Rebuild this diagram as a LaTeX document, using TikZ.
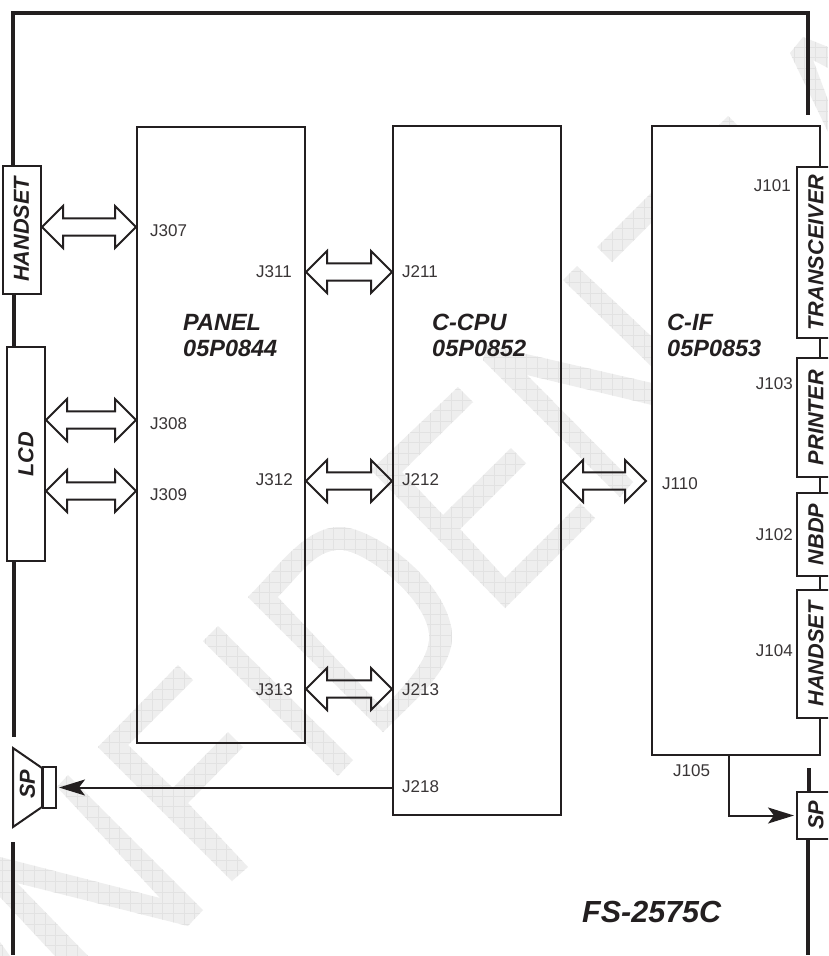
\documentclass[tikz,border=0pt]{standalone}
\usepackage{fontspec}
\setmainfont{Liberation Sans}
\usetikzlibrary{calc,arrows.meta}
\definecolor{ink}{HTML}{231F20}
\definecolor{wm}{HTML}{EEEEEE}
\definecolor{wmg}{HTML}{E2E2E2}
\tikzset{
  board/.style={draw=ink,line width=2pt,inner sep=0pt},
  tab/.style={draw=ink,line width=2pt,fill=white,inner sep=0pt,rotate=90,minimum height=38pt,text=ink,font=\fontsize{21.7}{22}\selectfont\bfseries\itshape},
  jlabel/.style={inner sep=0pt,text=ink!90,font=\fontsize{17}{17}\selectfont},
  title/.style={inner sep=0pt,align=left,anchor=base west,text=ink,font=\fontsize{23.5}{26}\selectfont\bfseries\itshape},
  frameline/.style={draw=ink,line width=3.8pt},
  fat/.style={draw=ink,line width=2pt,line join=miter,to path={
    let \p1=(\tikztostart),\p2=(\tikztotarget) in
    (\x1,\y1) -- (\x1+21pt,\y1+21pt) -- (\x1+21pt,\y1+8.7pt) -- (\x2-21pt,\y1+8.7pt) -- (\x2-21pt,\y1+21pt) -- (\x2,\y1)
    -- (\x2-21pt,\y1-21pt) -- (\x2-21pt,\y1-8.7pt) -- (\x1+21pt,\y1-8.7pt) -- (\x1+21pt,\y1-21pt) -- cycle}},
  feed/.style={draw=ink,line width=2pt,-{Stealth[length=26pt,width=16pt,inset=6pt]},shorten >=2pt}
}
\begin{document}
\begin{tikzpicture}[x=1pt,y=-1pt]
\clip (0,0) rectangle (828,956);
\fill[white] (0,0) rectangle (828,956);
% watermark
\begin{scope}
\clip
 (68,775)--(203,910)--(188,926)--(17,883)--(88,956)--(55,956)--(0,897)--(0,857)--(160,898)--(57,787)--cycle
 (0,942)--(10,956)--(0,956)--cycle
 (98,747)--(178,665)--(193,680)--(128,745)--(173,788)--(228,732)--(243,747)--(188,803)--(248,867)--(232,881)--cycle
 (218,626)--(203,641)--(338,776)--(353,760)--cycle
 (248,597) .. controls (280,565) and (305,527) .. (340,527) .. controls (375,527) and (452,585) .. (452,637) .. controls (452,670) and (415,700) .. (383,732) --cycle
 (371,470)--(458,387)--(473,402)--(402,472)--(443,515)--(511,448)--(526,463)--(460,529)--(505,578)--(580,503)--(595,518)--(505,608)--cycle
 (487,345)--(652,383)--(652,405)--(527,375)--(633,482)--(620,497)--(483,360)--cycle
 (577,266)--(652,337)--(652,367)--(563,280)--cycle
 (597,247)--(728,116)--(743,131)--(612,262)--cycle
 (790,53)--(803,37)--(828,47)--(828,68)--(813,60)--(828,100)--(828,132)--cycle;
\fill[wm] (0,0) rectangle (828,956);
\foreach \k in {0,...,78} {\draw[wmg,line width=0.6pt] (\k*10.7+2,0) -- (\k*10.7+2,956);}
\foreach \k in {0,...,90} {\draw[wmg,line width=0.6pt] (0,\k*10.7+4) -- (828,\k*10.7+4);}
\end{scope}
% D counter is white
\fill[white]
 (278,597) .. controls (300,575) and (315,550) .. (340,550) .. controls (365,550) and (429,600) .. (429,637) .. controls (429,660) and (405,685) .. (383,708) --cycle;
% frame
\draw[frameline,line cap=butt,line join=miter] (13,165) -- (13,13) -- (808,13) -- (808,115);
\draw[frameline] (14,293) -- (14,347);
\draw[frameline] (14,561) -- (14,737);
\draw[frameline] (13,842) -- (13,955);
\draw[frameline] (809,768) -- (809,792);
\draw[frameline] (808,839) -- (808,955);
% boards
\node[board,minimum width=168pt,minimum height=616pt] (panel) at (221,434.5) {};
\node[board,minimum width=168pt,minimum height=689pt] (ccpu) at (477,470.5) {};
\node[board,fill=white,minimum width=168pt,minimum height=629pt] (cif) at (736,440.5) {};
% peripheral tabs
\node[tab,minimum width=128pt] (hsl) at (22,229.5) {\raisebox{1.5pt}{HANDSET}};
\node[tab,minimum width=214pt] (lcd) at (26,454) {LCD};
\node[tab,minimum width=171pt] (trx) at (816,252.5) {TRANSCEIVER};
\node[tab,minimum width=119pt] (prn) at (816,417.5) {PRINTER};
\node[tab,minimum width=83pt] (nbdp) at (816,534.5) {NBDP};
\node[tab,minimum width=128pt] (hsr) at (816,654) {HANDSET};
\node[tab,minimum width=47pt] (spr) at (816,815.5) {SP};
% speaker
\node[draw=ink,line width=2pt,fill=white,inner sep=0pt,minimum width=13pt,minimum height=41pt] (spkbox) at (49.5,787.5) {};
\draw[draw=ink,line width=2pt,line join=miter] (42,768) -- (13,748) -- (13,827) -- (42,807) -- cycle;
\node[inner sep=0pt,rotate=90,text=ink,font=\fontsize{21.7}{22}\selectfont\bfseries\itshape] (splbl) at (27.5,784) {SP};
% bus arrows
\coordinate (a) at (hsl.south |- 0,227);
\coordinate (b) at (panel.west |- 0,227);
\draw[fat] (a) to (b);
\coordinate (c) at (lcd.south |- 0,420);
\coordinate (d) at (panel.west |- 0,420);
\draw[fat] (c) to (d);
\coordinate (e) at (lcd.south |- 0,491);
\coordinate (f) at (panel.west |- 0,491);
\draw[fat] (e) to (f);
\coordinate (g) at (panel.east |- 0,272);
\coordinate (h) at (ccpu.west |- 0,272);
\draw[fat] (g) to (h);
\coordinate (i) at (panel.east |- 0,481);
\coordinate (j) at (ccpu.west |- 0,481);
\draw[fat] (i) to (j);
\coordinate (k) at (panel.east |- 0,689);
\coordinate (l) at (ccpu.west |- 0,689);
\draw[fat] (k) to (l);
\coordinate (m) at (ccpu.east |- 0,481);
\coordinate (n) at ($(cif.west |- 0,481)+(-5,0)$);
\draw[fat] (m) to (n);
% speaker feeds
\coordinate (fs) at (ccpu.west |- spkbox.east);
\draw[feed] (fs) -- (spkbox.east);
\coordinate (fr) at (cif.south -| 729,0);
\draw[feed] (fr) |- (spr.north);
% connector labels
\node[jlabel,anchor=west] (j307) at (150,231) {J307};
\node[jlabel,anchor=west] (j308) at (150,424) {J308};
\node[jlabel,anchor=west] (j309) at (150,495) {J309};
\node[jlabel,anchor=east] (j311) at (292,272) {J311};
\node[jlabel,anchor=east] (j312) at (293,480) {J312};
\node[jlabel,anchor=east] (j313) at (293,690) {J313};
\node[jlabel,anchor=west] (j211) at (402,272) {J211};
\node[jlabel,anchor=west] (j212) at (402,480) {J212};
\node[jlabel,anchor=west] (j213) at (402,690) {J213};
\node[jlabel,anchor=west] (j218) at (402,787) {J218};
\node[jlabel,anchor=west] (j110) at (662,484) {J110};
\node[jlabel,anchor=east] (j101) at (791,186) {J101};
\node[jlabel,anchor=east] (j103) at (793,384) {J103};
\node[jlabel,anchor=east] (j102) at (793,535) {J102};
\node[jlabel,anchor=east] (j104) at (793,651) {J104};
\node[jlabel,anchor=west] (j105) at (673,771) {J105};
% titles
\node[title] (tpanel) at (183,356) {PANEL\\05P0844};
\node[title] (tcpu) at (432,356) {C-CPU\\05P0852};
\node[title] (tif) at (667,356) {C-IF\\05P0853};
\node[inner sep=0pt,anchor=base west,text=ink,font=\fontsize{30.5}{30.5}\selectfont\bfseries\itshape] (model) at (582,922) {FS-2575C};
\end{tikzpicture}
\end{document}
